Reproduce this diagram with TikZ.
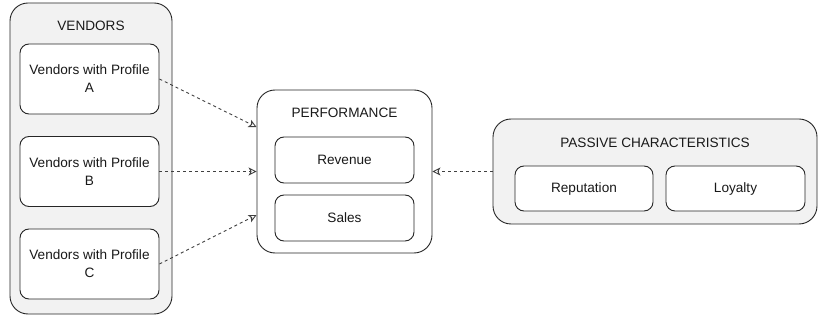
\documentclass[tikz,border=0pt]{standalone}
\usepackage{fontspec}
\setmainfont{Liberation Sans}
\usetikzlibrary{arrows.meta}

\begin{document}
\begin{tikzpicture}[x=1pt, y=-1pt,
  group/.style={draw=black!85, line width=0.9pt, fill=gray!10, rounded corners=18pt, inner sep=0pt},
  item/.style={draw=black!85, line width=0.9pt, fill=white, rounded corners=9pt, inner sep=0pt, align=center, text=black!90},
  title/.style={text=black!90},
  link/.style={draw=black!75, line width=0.9pt, dash pattern=on 3pt off 3pt, -{Stealth[open, length=8pt, width=8pt, inset=2pt]}}]
\def\labelfontsize{\fontsize{13.6}{18}\selectfont}
\def\itemwidth{139}
\useasboundingbox (0,0) rectangle (818,320);

\begin{scope}[font=\labelfontsize] % VENDORS
\node[group, minimum width=162, minimum height=311] (vendors) at (91, 158.5) {};
\node[title] (vendors-title) at (91, 26) {VENDORS};
\node[item, minimum width=\itemwidth, minimum height=70] (profile-a) at (89.5, 79) {Vendors with Profile\\A};
\node[item, minimum width=\itemwidth, minimum height=70] (profile-b) at (89.5, 171.5) {Vendors with Profile\\B};
\node[item, minimum width=\itemwidth, minimum height=70] (profile-c) at (89.5, 264) {Vendors with Profile\\C};
\end{scope}

\begin{scope}[font=\labelfontsize] % PERFORMANCE
\node[group, fill=white, minimum width=175, minimum height=163] (perf) at (344.5, 171.5) {};
\node[title] (perf-title) at (344.5, 113) {PERFORMANCE};
\node[item, minimum width=\itemwidth, minimum height=46] (revenue) at (344.5, 160) {Revenue};
\node[item, minimum width=\itemwidth, minimum height=46] (sales) at (344.5, 218) {Sales};
\end{scope}

\begin{scope}[font=\labelfontsize] % PASSIVE CHARACTERISTICS
\node[group, minimum width=324, minimum height=105] (passive) at (655, 171.5) {};
\node[title] (passive-title) at (655, 143) {PASSIVE CHARACTERISTICS};
\node[item, minimum width=138, minimum height=45] (reputation) at (584, 188.5) {Reputation};
\node[item, minimum width=\itemwidth, minimum height=45] (loyalty) at (735.5, 188.5) {Loyalty};
\end{scope}

% links
\draw[link] (profile-a.east) -- ([yshift=44.5]perf.west);
\draw[link] (profile-b.east) -- (perf.west);
\draw[link] (profile-c.east) -- ([yshift=-43.5]perf.west);
\draw[link] (passive.west) -- (perf.east);
\end{tikzpicture}
\end{document}
